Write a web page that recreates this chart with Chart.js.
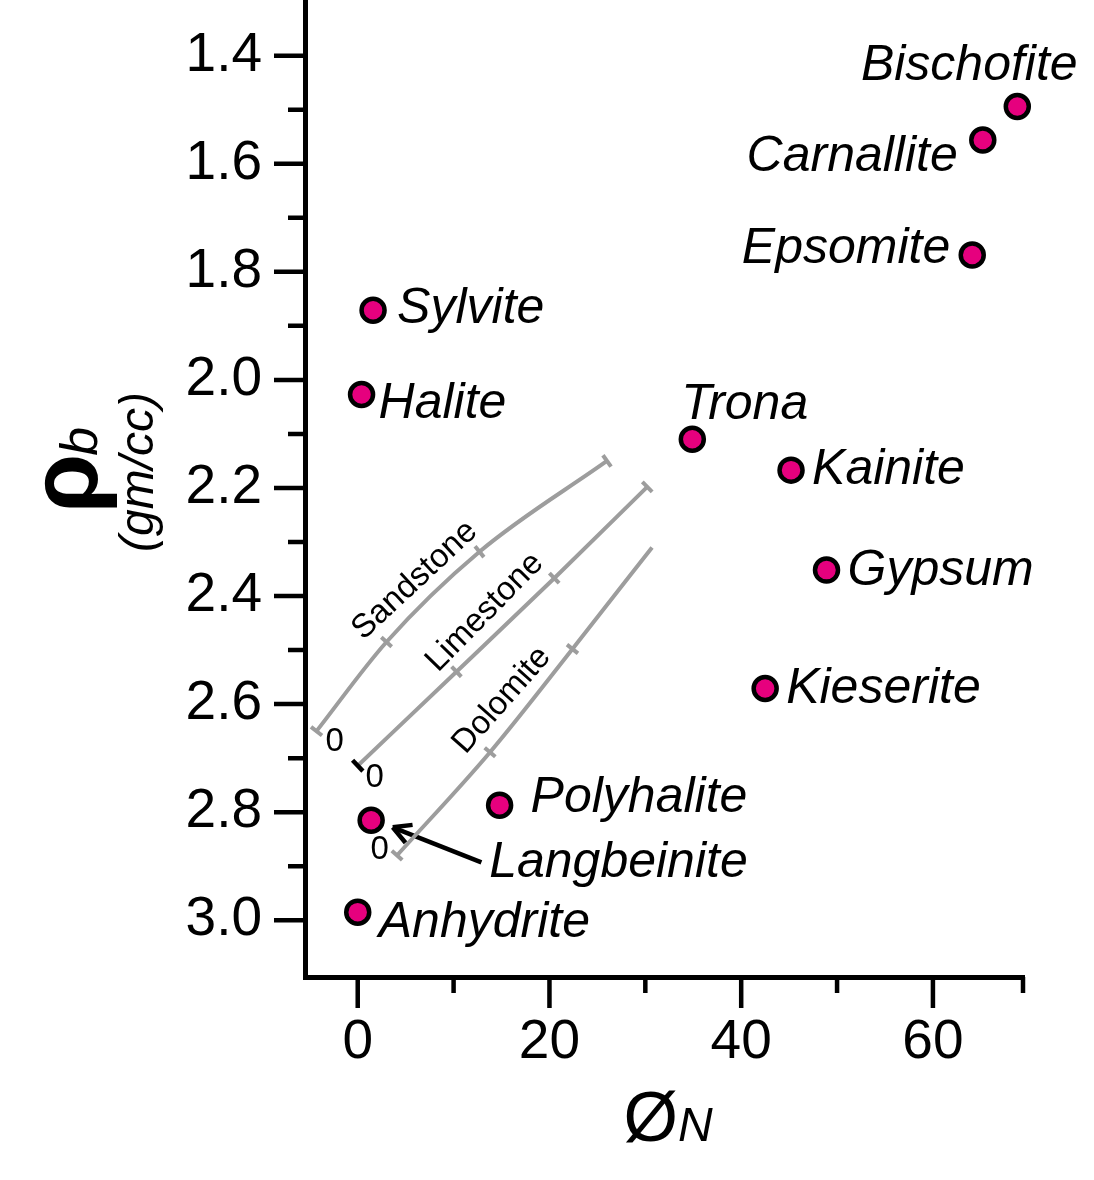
<!DOCTYPE html>
<html>
<head>
<meta charset="utf-8">
<script src="https://cdn.jsdelivr.net/npm/chart.js@4.4.1/dist/chart.umd.min.js"></script>
<style>
  html, body { margin: 0; padding: 0; background: #fff; }
  #wrap { width: 1094px; height: 1180px; position: relative; }
</style>
</head>
<body>
<div id="wrap"><canvas id="chart"></canvas></div>
<script>
/* ==========================================
   NEUTRON POROSITY vs BULK DENSITY – EVAPORITES
   ========================================== */

/* DATA */
const minerals = ["Bischofite", "Carnallite", "Epsomite", "Sylvite", "Halite", "Trona",
                  "Kainite", "Gypsum", "Kieserite", "Polyhalite", "Langbeinite", "Anhydrite"];
const phiN = [68.8, 65.2, 64.1, 1.6, 0.4, 34.9, 45.2, 48.9, 42.5, 14.8, 1.4, 0.0];
const rhoB = [1.494, 1.556, 1.769, 1.871, 2.027, 2.110, 2.167, 2.352, 2.571, 2.787, 2.815, 2.985];

// lithology lines, ticks at 0, 10, 20, 30 % porosity
const sandstonePhi = [-4.3, 3.0, 12.7, 26.0];
const sandstoneRho = [2.650, 2.485, 2.318, 2.150];
const limestonePhi = [0.0, 10.3, 20.5, 30.2];
const limestoneRho = [2.714, 2.540, 2.367, 2.198];
const dolomitePhi = [4.1, 13.8, 22.4, 30.7];
const dolomiteRho = [2.880, 2.689, 2.498, 2.310];

// arrow pointing at Langbeinite (tail, tip)
const arrowPhi = [12.9, 3.65];
const arrowRho = [2.893, 2.828];

/* AXES */
const xMajor = [0, 20, 40, 60];
const xMinor = [10, 30, 50];
const yMajor = [1.4, 1.6, 1.8, 2.0, 2.2, 2.4, 2.6, 2.8, 3.0];
const yMinor = [1.5, 1.7, 1.9, 2.1, 2.3, 2.5, 2.7, 2.9];
const X_MIN = -5.5, X_MAX = 69.5;
const Y_MIN = 1.297, Y_MAX = 3.105;

/* STYLE */
const FONT = "'Liberation Sans', Arial, Helvetica, sans-serif";
const PINK = "#e6007e";
const GREY = "#9d9d9d";

// label placement in pixels relative to the marker: [dx, dy(baseline), align]
const labelPlace = {
  Bischofite: [-48, -26, "center"],
  Carnallite: [-25, 31, "right"],
  Epsomite: [-22, 8, "right"],
  Sylvite: [24, 13, "left"],
  Halite: [17, 24, "left"],
  Trona: [-11, -20, "left"],
  Kainite: [21, 14, "left"],
  Gypsum: [21, 15, "left"],
  Kieserite: [21, 15, "left"],
  Polyhalite: [31, 7, "left"],
  Langbeinite: [118, 57, "left"],
  Anhydrite: [21, 25, "left"]
};

// lithology captions in data coords
const lithoText = [
  { t: "Sandstone", x: 5.95, y: 2.371, rot: -43, size: 33 },
  { t: "Limestone", x: 13.25, y: 2.430, rot: -45.5, size: 33 },
  { t: "Dolomite", x: 15.03, y: 2.593, rot: -48.5, size: 33 },
  { t: "0", x: -2.40, y: 2.670, rot: 0, size: 33 },
  { t: "0", x: 1.77, y: 2.737, rot: 0, size: 33 },
  { t: "0", x: 2.30, y: 2.870, rot: 0, size: 33 }
];

const toPts = (xs, ys) => xs.map((v, i) => ({ x: v, y: ys[i] }));

/* perpendicular tick marks on the lithology lines */
function tickAngle(c) {
  const d = c.dataset.data, i = c.dataIndex;
  const a = d[Math.max(i - 1, 0)], b = d[Math.min(i + 1, d.length - 1)];
  const sx = c.chart.scales.x, sy = c.chart.scales.y;
  if (!sx || !sy) return 0;
  const dx = sx.getPixelForValue(b.x) - sx.getPixelForValue(a.x);
  const dy = sy.getPixelForValue(b.y) - sy.getPixelForValue(a.y);
  return Math.atan2(dy, dx) * 180 / Math.PI + 90;
}

function lithoSet(xs, ys, extra) {
  return Object.assign({
    type: "line",
    data: toPts(xs, ys),
    borderColor: GREY,
    borderWidth: 4,
    cubicInterpolationMode: "monotone",
    fill: false,
    pointStyle: "line",
    pointRadius: 7,
    pointBorderWidth: 4,
    pointBorderColor: GREY,
    rotation: tickAngle
  }, extra || {});
}

function noPad(s) {
  s.paddingTop = s.paddingBottom = s.paddingLeft = s.paddingRight = 0;
}

/* PLUGIN: ticks, labels, titles */
const extras = {
  id: "extras",
  afterDatasetsDraw(chart) {
    const { ctx, chartArea: area, scales: { x, y } } = chart;
    ctx.save();

    // axis tick marks
    ctx.strokeStyle = "#000";
    ctx.lineWidth = 4.5;
    ctx.beginPath();
    yMajor.forEach(v => { const p = y.getPixelForValue(v); ctx.moveTo(area.left - 31, p); ctx.lineTo(area.left, p); });
    yMinor.forEach(v => { const p = y.getPixelForValue(v); ctx.moveTo(area.left - 17, p); ctx.lineTo(area.left, p); });
    xMajor.forEach(v => { const p = x.getPixelForValue(v); ctx.moveTo(p, area.bottom); ctx.lineTo(p, area.bottom + 31); });
    xMinor.concat([X_MAX]).forEach(v => {
      const p = Math.min(x.getPixelForValue(v), area.right - 1);
      ctx.moveTo(p, area.bottom); ctx.lineTo(p, area.bottom + 16);
    });
    ctx.stroke();

    // mineral names
    const meta = chart.getDatasetMeta(0);
    ctx.fillStyle = "#000";
    ctx.textBaseline = "alphabetic";
    ctx.font = "italic 50px " + FONT;
    meta.data.forEach((pt, i) => {
      const [dx, dy, al] = labelPlace[minerals[i]];
      ctx.textAlign = al;
      ctx.fillText(minerals[i], pt.x + dx, pt.y + dy);
    });

    // arrow head
    const am = chart.getDatasetMeta(4);
    const tail = am.data[0], tip = am.data[1];
    const ang = Math.atan2(tip.y - tail.y, tip.x - tail.x);
    ctx.lineWidth = 4.5;
    ctx.beginPath();
    [-0.5, 0.5].forEach(s => {
      ctx.moveTo(tip.x, tip.y);
      ctx.lineTo(tip.x - 20 * Math.cos(ang + s), tip.y - 20 * Math.sin(ang + s));
    });
    ctx.stroke();

    // lithology captions
    ctx.textAlign = "center";
    ctx.textBaseline = "middle";
    lithoText.forEach(l => {
      ctx.save();
      ctx.translate(x.getPixelForValue(l.x), y.getPixelForValue(l.y));
      ctx.rotate(l.rot * Math.PI / 180);
      ctx.font = l.size + "px " + FONT;
      ctx.fillText(l.t, 0, 0);
      ctx.restore();
    });

    // y title: rho_b (gm/cc)
    ctx.textAlign = "left";
    ctx.textBaseline = "alphabetic";
    ctx.save();
    ctx.translate(97, 469);
    ctx.rotate(-Math.PI / 2);
    ctx.font = "bold 96px " + FONT;
    const wRho = ctx.measureText("ρ").width;
    ctx.font = "italic 52px " + FONT;
    const wB = ctx.measureText("b").width;
    const s0 = -(wRho + wB) / 2;
    ctx.font = "bold 96px " + FONT;
    ctx.fillText("ρ", s0, 0);
    ctx.font = "italic 52px " + FONT;
    ctx.fillText("b", s0 + wRho - 2, 0);
    ctx.restore();

    ctx.save();
    ctx.translate(153, 472);
    ctx.rotate(-Math.PI / 2);
    ctx.textAlign = "center";
    ctx.font = "italic 48px " + FONT;
    ctx.fillText("(gm/cc)", 0, 0);
    ctx.restore();

    // x title: phi_N
    ctx.font = "70px " + FONT;
    const wPhi = ctx.measureText("Ø").width;
    ctx.font = "italic 48px " + FONT;
    const wN = ctx.measureText("N").width;
    const x0 = 668 - (wPhi + wN) / 2;
    ctx.font = "70px " + FONT;
    ctx.fillText("Ø", x0, 1141);
    ctx.font = "italic 48px " + FONT;
    ctx.fillText("N", x0 + wPhi, 1141);

    ctx.restore();
  }
};

/* CHART */
Chart.defaults.font.family = FONT;
Chart.defaults.color = "#000";

new Chart(document.getElementById("chart").getContext("2d"), {
  data: {
    datasets: [
      {
        type: "scatter",
        data: toPts(phiN, rhoB),
        clip: false,
        pointRadius: 11.5,
        pointBackgroundColor: PINK,
        pointBorderColor: "#000",
        pointBorderWidth: 4.5
      },
      lithoSet(sandstonePhi, sandstoneRho),
      lithoSet(limestonePhi, limestoneRho, {
        pointBorderColor: c => (c.dataIndex === 0 ? "#000" : GREY),
        pointBorderWidth: c => (c.dataIndex === 0 ? 4.5 : 4),
        pointRadius: c => (c.dataIndex === 0 ? 7.5 : 7)
      }),
      lithoSet(dolomitePhi, dolomiteRho, { pointRadius: [7, 7, 7, 0] }),
      {
        type: "line",
        data: toPts(arrowPhi, arrowRho),
        borderColor: "#000",
        borderWidth: 4.5,
        pointRadius: 0,
        tension: 0
      }
    ]
  },
  options: {
    responsive: true,
    maintainAspectRatio: false,
    animation: false,
    events: [],
    layout: { autoPadding: false, padding: { left: 0, right: 70, top: 0, bottom: 0 } },
    plugins: { legend: { display: false }, tooltip: { enabled: false } },
    scales: {
      x: {
        type: "linear",
        position: "bottom",
        min: X_MIN,
        max: X_MAX,
        afterBuildTicks: s => { s.ticks = xMajor.map(v => ({ value: v })); },
        afterFit: s => { s.height = 203; noPad(s); },
        border: { display: true, color: "#000", width: 5 },
        grid: { drawOnChartArea: false, drawTicks: true, tickLength: 31, color: "rgba(0,0,0,0)" },
        ticks: { font: { size: 55 }, padding: 2, autoSkip: false, maxRotation: 0, callback: v => String(v) }
      },
      y: {
        type: "linear",
        position: "left",
        reverse: true,
        min: Y_MIN,
        max: Y_MAX,
        afterBuildTicks: s => { s.ticks = yMajor.map(v => ({ value: v })); },
        afterFit: s => { s.width = 305; noPad(s); },
        border: { display: true, color: "#000", width: 5 },
        grid: { drawOnChartArea: false, drawTicks: true, tickLength: 31, color: "rgba(0,0,0,0)" },
        ticks: { font: { size: 55 }, padding: 12, autoSkip: false, callback: v => v.toFixed(1) }
      }
    }
  },
  plugins: [extras]
});
</script>
</body>
</html>
